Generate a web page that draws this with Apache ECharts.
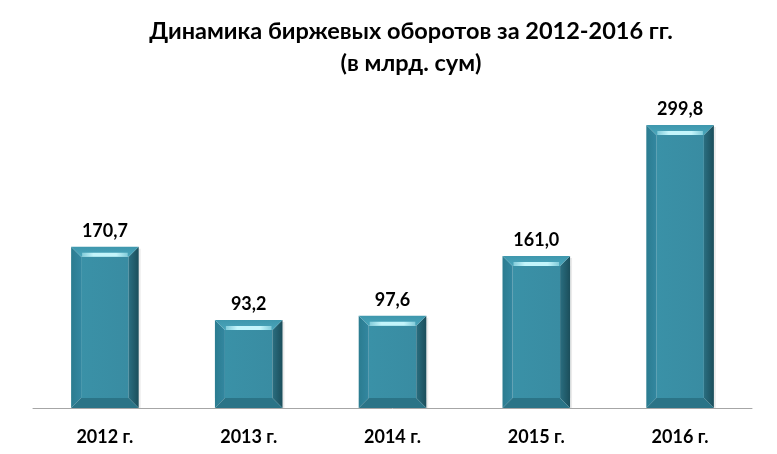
<!DOCTYPE html>
<html><head><meta charset="utf-8">
<script src="https://cdn.jsdelivr.net/npm/echarts@6/dist/echarts.min.js"></script>
<style>html,body{margin:0;padding:0;background:#fff}#c{width:777px;height:454px}</style>
</head><body><div id="c"></div>
<script>
const categories = ['2012 г.', '2013 г.', '2014 г.', '2015 г.', '2016 г.'];
const values = [170.7, 93.2, 97.6, 161.0, 299.8];
const titleText = 'Динамика биржевых оборотов за 2012-2016 гг.\n(в млрд. сум)';

const chart = echarts.init(document.getElementById('c'));
function fmt(v){ return v.toFixed(1).replace('.', ','); }
chart.setOption({
  animation: false,
  title: {
    text: titleText, left: 406, top: 10, textAlign: 'center',
    textStyle: { fontFamily: 'Lato', fontWeight: 'bold', fontSize: 23.5, lineHeight: 32, color: '#000' }
  },
  grid: { left: 33, right: 25, top: 77.5, bottom: 46 },
  xAxis: {
    type: 'category', data: categories,
    axisLine: { lineStyle: { color: '#a6a6a6', width: 1 } },
    axisTick: { show: false },
    axisLabel: { fontFamily: 'Lato', fontWeight: 'bold', fontSize: 18, color: '#000', margin: 20 }
  },
  yAxis: { type: 'value', min: 0, max: 350, show: false, splitLine: { show: false } },
  series: [{
    type: 'custom',
    data: values.map((v, i) => [i, v]),
    encode: { x: 0, y: 1 },
    renderItem: function (params, api) {
      const top = api.coord([api.value(0), api.value(1)]);
      const base = api.coord([api.value(0), 0]);
      const w = api.size([1, 0])[0] * 0.47;
      const x0 = top[0] - w / 2, x1 = top[0] + w / 2, y0 = top[1], y1 = base[1];
      const b = 10;
      return {
        type: 'group',
        children: [
          { type: 'rect', shape: { x: x0 + 2, y: y0 + 2, width: w, height: y1 - y0 - 2 },
            style: { fill: 'rgba(0,0,0,0.08)' } },
          { type: 'rect', shape: { x: x0 + b, y: y0 + b, width: w - 2 * b, height: y1 - y0 - 2 * b },
            style: { fill: new echarts.graphic.LinearGradient(0, 0, 1, 0, [
              { offset: 0, color: '#3a91a7' }, { offset: 1, color: '#398ca2' }]) } },
          { type: 'polygon', shape: { points: [[x0, y0], [x0 + b, y0 + b], [x0 + b, y1 - b], [x0, y1]] },
            style: { fill: new echarts.graphic.LinearGradient(0, 0, 1, 0, [
              { offset: 0, color: '#2b7c90' }, { offset: 1, color: '#3387a0' }]) } },
          { type: 'polygon', shape: { points: [[x1, y0], [x1, y1], [x1 - b, y1 - b], [x1 - b, y0 + b]] },
            style: { fill: new echarts.graphic.LinearGradient(0, 0, 1, 0, [
              { offset: 0, color: '#2a6e80' }, { offset: 1, color: '#1b4e5b' }]) } },
          { type: 'polygon', shape: { points: [[x0, y1], [x0 + b, y1 - b], [x1 - b, y1 - b], [x1, y1]] },
            style: { fill: '#2b7487' } },
          { type: 'polygon', shape: { points: [[x0, y0], [x1, y0], [x1 - b, y0 + b], [x0 + b, y0 + b]] },
            style: { fill: new echarts.graphic.LinearGradient(0, 0, 0, 1, [
              { offset: 0, color: '#3e97ad' }, { offset: 1, color: '#4aa6bb' }]) } },
          { type: 'rect', shape: { x: x0 + b + 1, y: y0 + b - 4, width: w - 2 * b - 2, height: 4 },
            style: { fill: new echarts.graphic.LinearGradient(0, 0, 1, 0, [
              { offset: 0, color: 'rgba(190,245,252,0.5)' }, { offset: 0.25, color: '#c4f5fb' },
              { offset: 0.75, color: '#c4f5fb' }, { offset: 1, color: 'rgba(190,245,252,0.5)' }]) } },
          { type: 'text', style: { x: top[0], y: y0 - 16, text: fmt(api.value(1)),
              align: 'center', verticalAlign: 'middle',
              font: 'bold 18px Lato', fill: '#000' } }
        ]
      };
    }
  }]
});
</script></body></html>
